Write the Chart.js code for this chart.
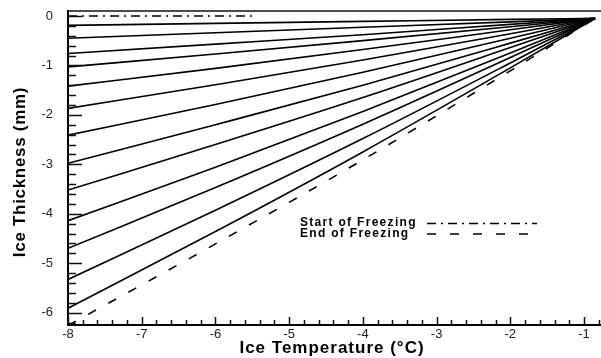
<!DOCTYPE html>
<html>
<head>
<meta charset="utf-8">
<script src="https://cdn.jsdelivr.net/npm/chart.js@4.4.0/dist/chart.umd.min.js"></script>
<style>
html, body { margin: 0; padding: 0; background: #fff; }
#wrap { width: 601px; height: 358px; }
</style>
</head>
<body>
<div id="wrap"><canvas id="iceChart" width="601" height="358"></canvas></div>
<script>
// ice temperature (deg C) sample points along each curve
var tempX = [-8, -6, -4, -2, -0.85];

// ice thickness (mm) for each solid curve at tempX
var thickness = [
    [-0.19, -0.15, -0.11, -0.07, -0.05],
    [-0.45, -0.34, -0.23, -0.12, -0.05],
    [-0.76, -0.57, -0.38, -0.17, -0.05],
    [-1.03, -0.77, -0.50, -0.22, -0.05],
    [-1.42, -1.06, -0.68, -0.28, -0.05],
    [-1.87, -1.39, -0.89, -0.36, -0.05],
    [-2.41, -1.79, -1.14, -0.45, -0.05],
    [-2.98, -2.20, -1.40, -0.55, -0.05],
    [-3.52, -2.60, -1.65, -0.64, -0.05],
    [-4.14, -3.06, -1.93, -0.75, -0.05],
    [-4.70, -3.47, -2.19, -0.84, -0.05],
    [-5.33, -3.93, -2.48, -0.95, -0.05],
    [-5.91, -4.36, -2.75, -1.05, -0.05]
];

// start of freezing (dash-dot)
var startX = [-8, -5.45];
var startY = [0, 0];

// end of freezing (dashed)
var endY = [-6.26, -4.61, -2.91, -1.11, -0.05];

var xTicks = [-8, -7, -6, -5, -4, -3, -2, -1];
var yTicks = [-6, -5, -4, -3, -2, -1, 0];

var xTitle = 'Ice Temperature (°C)';
var yTitle = 'Ice Thickness (mm)';

function pts(xs, ys) {
    var out = [];
    for (let i = 0; i < xs.length; i++) {
        out.push({x: xs[i], y: ys[i]});
    }
    return out;
}

var datasets = [];
datasets.push({
    label: 'Start of Freezing',
    data: pts(startX, startY),
    borderColor: '#000',
    borderWidth: 1.6,
    borderDash: [9, 5, 2, 5],
    pointRadius: 0
});
datasets.push({
    label: 'End of Freezing',
    data: pts(tempX, endY),
    borderColor: '#000',
    borderWidth: 1.6,
    borderDash: [9, 14],
    pointRadius: 0,
    cubicInterpolationMode: 'monotone'
});
for (let i = 0; i < thickness.length; i++) {
    datasets.push({
        label: '',
        data: pts(tempX, thickness[i]),
        borderColor: '#000',
        borderWidth: 1.6,
        pointRadius: 0,
        cubicInterpolationMode: 'monotone'
    });
}

var FONT = '"Liberation Sans", Arial, sans-serif';

// inward ticks, top frame line, axis titles and the in-plot legend
var frameAndTicks = {
    id: 'frameAndTicks',
    afterDraw: function (chart) {
        var ctx = chart.ctx;
        var a = chart.chartArea;
        var xs = chart.scales.x;
        var ys = chart.scales.y;
        ctx.save();
        ctx.strokeStyle = '#111';
        ctx.lineWidth = 1.5;

        ctx.beginPath();
        ctx.moveTo(a.left, a.top);
        ctx.lineTo(a.right, a.top);
        ctx.stroke();

        for (let i = 0; i <= 36; i++) {
            var v = -8 + i * 0.2;
            var px = Math.round(xs.getPixelForValue(v)) + 0.5;
            var len = (i % 5 === 0) ? 8 : 5;
            ctx.beginPath();
            ctx.moveTo(px, a.bottom);
            ctx.lineTo(px, a.bottom - len);
            ctx.stroke();
        }
        for (let i = 0; i <= 31; i++) {
            var v2 = -6.2 + i * 0.2;
            var py = Math.round(ys.getPixelForValue(v2)) + 0.5;
            var len2 = (i % 5 === 1) ? 14 : 8;
            ctx.beginPath();
            ctx.moveTo(a.left, py);
            ctx.lineTo(a.left + len2, py);
            ctx.stroke();
        }

        // axis titles
        ctx.fillStyle = '#000';
        ctx.textAlign = 'center';
        ctx.textBaseline = 'middle';
        ctx.font = 'bold 17px ' + FONT;
        ctx.letterSpacing = '1px';
        ctx.fillText(xTitle, 332, 348);
        ctx.save();
        ctx.translate(20, 172);
        ctx.rotate(-Math.PI / 2);
        ctx.font = 'bold 17px ' + FONT;
        ctx.letterSpacing = '0.7px';
        ctx.fillText(yTitle, 0, 0);
        ctx.restore();

        // legend
        ctx.textAlign = 'left';
        ctx.font = 'bold 12px ' + FONT;
        ctx.letterSpacing = '1.3px';
        var rows = [0, 1];
        for (let r = 0; r < rows.length; r++) {
            var ds = chart.data.datasets[rows[r]];
            var ly = 223 + r * 10.5;
            ctx.fillText(ds.label, 300, ly);
            ctx.setLineDash(ds.borderDash);
            ctx.lineWidth = 1.6;
            ctx.strokeStyle = '#000';
            ctx.beginPath();
            ctx.moveTo(427, ly + 0.5);
            ctx.lineTo(537, ly + 0.5);
            ctx.stroke();
        }
        ctx.restore();
    }
};

new Chart(document.getElementById('iceChart').getContext('2d'), {
    type: 'line',
    data: { datasets: datasets },
    options: {
        responsive: false,
        animation: false,
        layout: { padding: { top: 11, right: 0, left: 0, bottom: 0 } },
        plugins: {
            legend: { display: false },
            tooltip: { enabled: false }
        },
        scales: {
            x: {
                type: 'linear',
                min: -8,
                max: -0.77,
                afterBuildTicks: function (scale) {
                    scale.ticks = xTicks.map(function (v) { return {value: v}; });
                },
                afterFit: function (scale) {
                    scale.height = 33;
                    scale.paddingLeft = 0;
                    scale.paddingRight = 0;
                },
                grid: { display: false, drawTicks: false },
                border: { display: true, color: '#000', width: 2 },
                ticks: {
                    color: '#222',
                    padding: 2,
                    maxRotation: 0,
                    font: { family: FONT, size: 13 }
                }
            },
            y: {
                type: 'linear',
                min: -6.25,
                max: 0.1,
                afterBuildTicks: function (scale) {
                    scale.ticks = yTicks.map(function (v) { return {value: v}; });
                },
                afterFit: function (scale) {
                    scale.width = 68;
                    scale.paddingTop = 0;
                    scale.paddingBottom = 0;
                },
                grid: { display: false, drawTicks: false },
                border: { display: true, color: '#000', width: 2 },
                ticks: {
                    color: '#222',
                    padding: 15,
                    font: { family: FONT, size: 13 }
                }
            }
        }
    },
    plugins: [frameAndTicks]
});
</script>
</body>
</html>
